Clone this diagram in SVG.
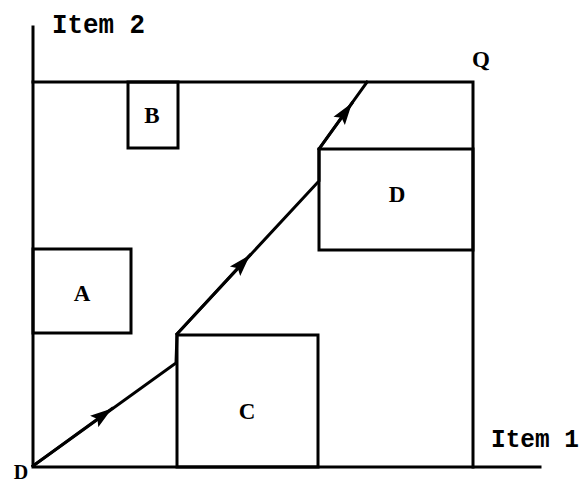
<svg xmlns="http://www.w3.org/2000/svg" width="585" height="484" viewBox="0 0 585 484">
<style>
.ln{fill:none;stroke:#000;stroke-width:3;stroke-linecap:square;stroke-linejoin:miter}
.lbl{font-family:"Liberation Serif",serif;font-weight:bold;font-size:23px;text-anchor:middle;fill:#000}
.ax{font-family:"Liberation Mono",monospace;font-weight:bold;font-size:28px;fill:#000}
</style>
<defs>
<marker id="ah" markerUnits="userSpaceOnUse" markerWidth="24" markerHeight="16" refX="22" refY="8" orient="auto">
<path d="M0,1 L22,8 L0,15 L4,8 z" fill="#000"/>
</marker>
</defs>
<rect width="585" height="484" fill="#fff"/>
<g id="axes">
<path class="ln" d="M33,27 L33,467 L540,467"/>
<path class="ln" d="M33,82 L473,82 L473,467"/>
<text class="ax" x="52" y="33" textLength="93" lengthAdjust="spacingAndGlyphs">Item 2</text>
<text class="ax" x="491" y="447" textLength="88" lengthAdjust="spacingAndGlyphs" style="font-size:26px">Item 1</text>
<text class="lbl" x="481" y="67">Q</text>
<text class="lbl" x="21" y="479" style="font-size:20px">D</text>
</g>
<g id="A">
<rect class="ln" x="33" y="249" width="98" height="84"/>
<text class="lbl" x="82" y="301">A</text>
</g>
<g id="B">
<rect class="ln" x="128" y="82" width="50" height="66"/>
<text class="lbl" x="152" y="123">B</text>
</g>
<g id="C">
<rect class="ln" x="177" y="335" width="141" height="132"/>
<text class="lbl" x="247" y="419">C</text>
</g>
<g id="D">
<rect class="ln" x="319" y="149" width="154" height="101"/>
<text class="lbl" x="397" y="202">D</text>
</g>
<g id="connectors">
<path class="ln" d="M33,466 L176,363 L177,334 L319,181 L319,149 L367,82"/>
<path class="ln" d="M33,466 L112,408.5" marker-end="url(#ah)"/>
<path class="ln" d="M177,334 L250,255" marker-end="url(#ah)"/>
<path class="ln" d="M319,149 L352,103" marker-end="url(#ah)"/>
</g>
</svg>
